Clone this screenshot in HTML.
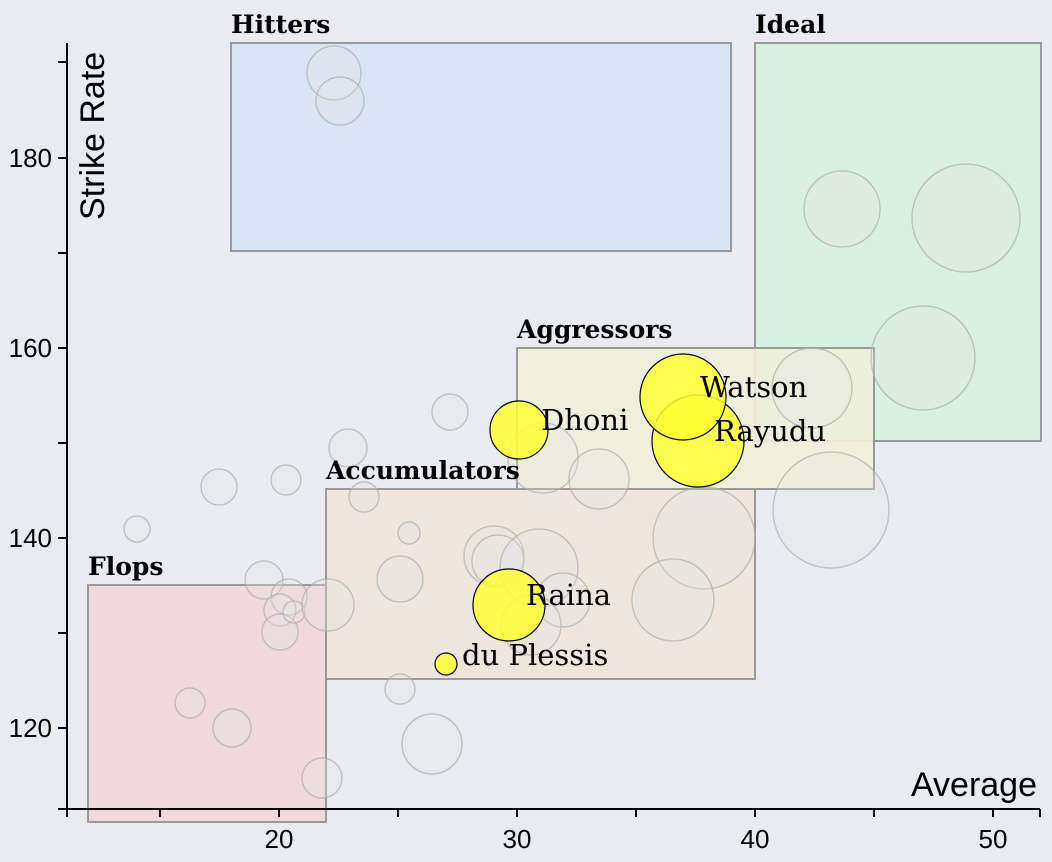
<!DOCTYPE html>
<html><head><meta charset="utf-8"><style>
html,body{margin:0;padding:0;background:#e8ebef;}
svg{display:block}
.t{font-family:"Liberation Sans",sans-serif;font-size:26px;fill:#000}
.b{font-family:"DejaVu Serif",serif;font-weight:bold;font-size:25px;fill:#000}
.n{font-family:"DejaVu Serif",serif;font-size:29px;fill:#000}
.g{fill:#e3e3e6;fill-opacity:0.3;stroke:#aaa;stroke-opacity:0.6;stroke-width:1.5}
.y{fill:#ffff33;fill-opacity:0.85;stroke:#000;stroke-width:1.2}
</style></head><body>
<svg width="1052" height="862" viewBox="0 0 1052 862">
<rect width="1052" height="862" fill="#e8ebef"/>
<g stroke="#999" stroke-width="2">
<rect x="231" y="43" width="500" height="208" fill="#d9e5f2"/>
<rect x="755" y="43" width="286" height="398" fill="#d8f0e0"/>
<rect x="517" y="348" width="357" height="141" fill="#eff0d8" fill-opacity="0.9"/>
<rect x="326" y="489" width="429" height="190" fill="#eee6da" fill-opacity="0.9"/>
<rect x="88" y="585" width="238" height="237" fill="#f0d8dc"/>
</g>
<g>
<circle class="g" cx="334" cy="73" r="27"/><circle class="g" cx="340" cy="101" r="24"/>
<circle class="g" cx="842" cy="209" r="38"/><circle class="g" cx="966" cy="218" r="54"/>
<circle class="g" cx="923" cy="358" r="52"/><circle class="g" cx="812" cy="388" r="40"/>
<circle class="g" cx="543" cy="458" r="35"/><circle class="g" cx="599" cy="479" r="30"/>
<circle class="g" cx="450" cy="412" r="18"/><circle class="g" cx="348" cy="448" r="19"/>
<circle class="g" cx="286" cy="480" r="15"/><circle class="g" cx="219" cy="487" r="18"/>
<circle class="g" cx="137" cy="529" r="13"/><circle class="g" cx="364" cy="497" r="15"/>
<circle class="g" cx="409" cy="533" r="11"/><circle class="g" cx="494" cy="556" r="30"/>
<circle class="g" cx="498" cy="561" r="26"/><circle class="g" cx="539" cy="568" r="39"/>
<circle class="g" cx="563" cy="600" r="27"/><circle class="g" cx="400" cy="579" r="23"/>
<circle class="g" cx="704" cy="538" r="51"/><circle class="g" cx="673" cy="600" r="41"/>
<circle class="g" cx="831" cy="510" r="58"/><circle class="g" cx="264" cy="580" r="19"/>
<circle class="g" cx="289" cy="597" r="18"/><circle class="g" cx="280" cy="610" r="16"/>
<circle class="g" cx="280" cy="632" r="18"/><circle class="g" cx="294" cy="612" r="11"/>
<circle class="g" cx="328" cy="605" r="26"/><circle class="g" cx="531" cy="625" r="30"/>
<circle class="g" cx="400" cy="689" r="15"/><circle class="g" cx="432" cy="744" r="30"/>
<circle class="g" cx="190" cy="703" r="15"/><circle class="g" cx="232" cy="728" r="19"/>
<circle class="g" cx="322" cy="778" r="20"/>
</g>
<circle class="y" cx="519" cy="430" r="29"/>
<circle class="y" cx="698" cy="441" r="46"/>
<circle class="y" cx="683" cy="397" r="43"/>
<circle class="y" cx="509" cy="605" r="36"/>
<circle class="y" cx="446" cy="664" r="11"/>
<text class="n" x="541" y="430">Dhoni</text>
<text class="n" x="700" y="397">Watson</text>
<text class="n" x="714" y="441">Rayudu</text>
<text class="n" x="526" y="605">Raina</text>
<text class="n" x="462" y="665">du Plessis</text>
<text class="b" x="231" y="33">Hitters</text>
<text class="b" x="755" y="33">Ideal</text>
<text class="b" x="517" y="338">Aggressors</text>
<text class="b" x="326" y="479">Accumulators</text>
<text class="b" x="88" y="575">Flops</text>
<g stroke="#000" stroke-width="2" fill="none">
<path d="M67 43V809M58 809H1040"/>
<path d="M58 62H67M58 158H67M58 253H67M58 348H67M58 443H67M58 538H67M58 633H67M58 728H67"/>
<path d="M67 809V817M160 809V817M279 809V817M398 809V817M517 809V817M636 809V817M755 809V817M874 809V817M993 809V817M1040 809V817"/>
</g>
<g class="t" text-anchor="end">
<text x="52" y="167">180</text><text x="52" y="357">160</text><text x="52" y="547">140</text><text x="52" y="737">120</text>
</g>
<g class="t" text-anchor="middle">
<text x="279" y="848">20</text><text x="517" y="848">30</text><text x="755" y="848">40</text><text x="993" y="848">50</text>
</g>
<text class="t" style="font-size:34px" transform="translate(104,220) rotate(-90)">Strike Rate</text>
<text class="t" style="font-size:34px" x="1037" y="796" text-anchor="end">Average</text>
</svg>
</body></html>
